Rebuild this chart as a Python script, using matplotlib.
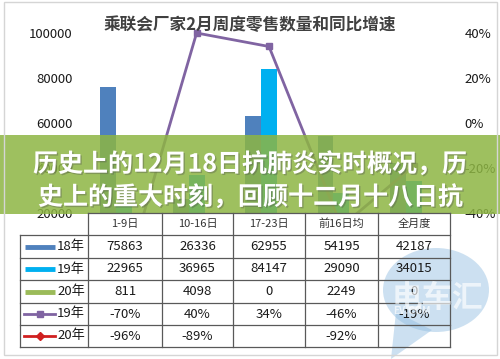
import numpy as np
import matplotlib.pyplot as plt
from matplotlib.patches import Rectangle, Ellipse, Polygon
import matplotlib.patheffects as pe

plt.rcParams['font.family'] = ['Noto Sans CJK SC', 'DejaVu Sans']

# ====== data
title = "乘联会厂家2月周度零售数量和同比增速"
categories = ["1-9日", "10-16日", "17-23日", "前16日均", "全月度"]
sales18 = [75863, 26336, 62955, 54195, 42187]
sales19 = [22965, 36965, 84147, 29090, 34015]
sales20 = [811, 4098, 0, 2249, 0]
growth19 = [-70, 40, 34, -46, -19]
growth20 = [-96, -89, np.nan, -92, np.nan]
row_labels = ["18年", "19年", "20年", "19年", "20年"]
left_ticks = [20000, 40000, 60000, 80000, 100000]
right_ticks = [-40, -20, 0, 20, 40]
banner_lines = ["历史上的12月18日抗肺炎实时概况，历", "史上的重大时刻，回顾十二月十八日抗"]

c18, c19, c20 = '#4F81BD', '#00B0F0', '#9BBB59'
cg19, cg20 = '#8064A2', '#D02020'

W, H = 500, 359
fig = plt.figure(figsize=(W / 100, H / 100), dpi=100)
fig.patch.set_facecolor('white')

# main plot box in pixels: x 88..450, y 20..213
ax = fig.add_axes([88 / W, 1 - 213 / H, (450 - 88) / W, (213 - 20) / H])
x = np.arange(len(categories))
bw = 0.22
ax.bar(x - bw, sales18, bw, color=c18)
ax.bar(x, sales19, bw, color=c19)
ax.bar(x + bw, sales20, bw, color=c20)
ax.set_xlim(-0.5, 4.5)
ax.set_ylim(20000, 100000 + 13 * 20000 / 45)
ax.set_yticks(left_ticks)
ax.set_yticklabels([str(v) for v in left_ticks])
ax.set_xticks([])
ax.tick_params(axis='y', length=0, pad=11, labelsize=9.5, labelcolor='#1a1a1a')
for lab in ax.get_yticklabels():
    lab.set_fontweight('medium')
for s in ax.spines.values():
    s.set_visible(False)

ax2 = ax.twinx()
ax2.plot(x, growth19, color=cg19, lw=2, marker='s', ms=4.5)
ax2.plot(x, growth20, color=cg20, lw=2, marker='D', ms=3.5)
ax2.set_ylim(-40, 40 + 13 * 20 / 45)
ax2.set_yticks(right_ticks)
ax2.set_yticklabels([f"{v}%" for v in right_ticks])
ax2.tick_params(axis='y', length=0, pad=10.5, labelsize=9.5, labelcolor='#1a1a1a')
for lab in ax2.get_yticklabels():
    lab.set_fontweight('medium')
for s in ax2.spines.values():
    s.set_visible(False)

# overlay in pixel coordinates
ov = fig.add_axes([0, 0, 1, 1])
ov.set_zorder(10)
ov.set_xlim(0, W)
ov.set_ylim(H, 0)
ov.axis('off')
ov.patch.set_alpha(0)

ov.text(250, 25, title, ha='center', va='center', fontsize=12,
        weight='bold', color='#404040')

# data table
cols = [88, 162, 233, 305, 378, 450]
rows = [213, 235, 258, 280, 303, 325, 347]
lc = '#595959'
ov.plot([88, 450], [213, 213], color=lc, lw=0.9)
for yy in rows[1:]:
    ov.plot([20, 450], [yy, yy], color=lc, lw=0.9)
ov.plot([20, 20], [235, 347], color=lc, lw=0.9)
for xx in cols:
    ov.plot([xx, xx], [213, 347], color=lc, lw=0.9)

for j, cat in enumerate(categories):
    cx = (cols[j] + cols[j + 1]) / 2
    ov.text(cx, 224, cat, ha='center', va='center', fontsize=8, color='#333333')

table_rows = [
    [str(v) for v in sales18],
    [str(v) for v in sales19],
    [str(v) for v in sales20],
    [f"{v}%" for v in growth19],
    ["" if np.isnan(v) else f"{int(v)}%" for v in growth20],
]
key_styles = [(c18, None), (c19, None), (c20, None), (cg19, 's'), (cg20, 'D')]
for i, vals in enumerate(table_rows):
    cy = (rows[i + 1] + rows[i + 2]) / 2
    col, mk = key_styles[i]
    if mk is None:
        ov.plot([25, 55], [cy, cy], color=col, lw=3.5, solid_capstyle='butt')
    else:
        ov.plot([24, 55], [cy, cy], color=col, lw=2)
        ov.plot([39.5], [cy], color=col, marker=mk, ms=5 if mk == 's' else 4)
    ov.text(57, cy, row_labels[i], ha='left', va='center', fontsize=9.5, color='#1a1a1a')
    for j, v in enumerate(vals):
        cx = (cols[j] + cols[j + 1]) / 2
        ov.text(cx, cy, v, ha='center', va='center', fontsize=9.5, color='#1a1a1a')

# watermark bubble
bub = '#8FBCE0'
ov.add_patch(Ellipse((436, 290), 106, 84, color=bub, alpha=0.45, lw=0))
ov.add_patch(Polygon([[396, 312], [391, 359], [432, 330]], closed=True,
                     color=bub, alpha=0.45, lw=0))
ov.text(437, 298, "电车汇", ha='center', va='center', fontsize=22,
        weight='bold', color='white', alpha=0.65)
ov.text(393, 311, "EV.COM", ha='left', va='center', fontsize=7,
        weight='bold', color='white', alpha=0.65)

# green banner with title text
ov.add_patch(Rectangle((0, 135), W, 79, color='#8DB543', alpha=0.85, lw=0))
shadow = [pe.withSimplePatchShadow(offset=(1, -1), alpha=0.35)]
ov.text(33, 164, banner_lines[0], ha='left', va='center', fontsize=18,
        weight='bold', color='white', path_effects=shadow)
ov.text(38, 197, banner_lines[1], ha='left', va='center', fontsize=18,
        weight='bold', color='white', path_effects=shadow)

# frame
ov.add_patch(Rectangle((4, 2), 493, 353, fill=False, ec='#D5D5D5', lw=1.0))

fig.savefig('out.png', dpi=100)
